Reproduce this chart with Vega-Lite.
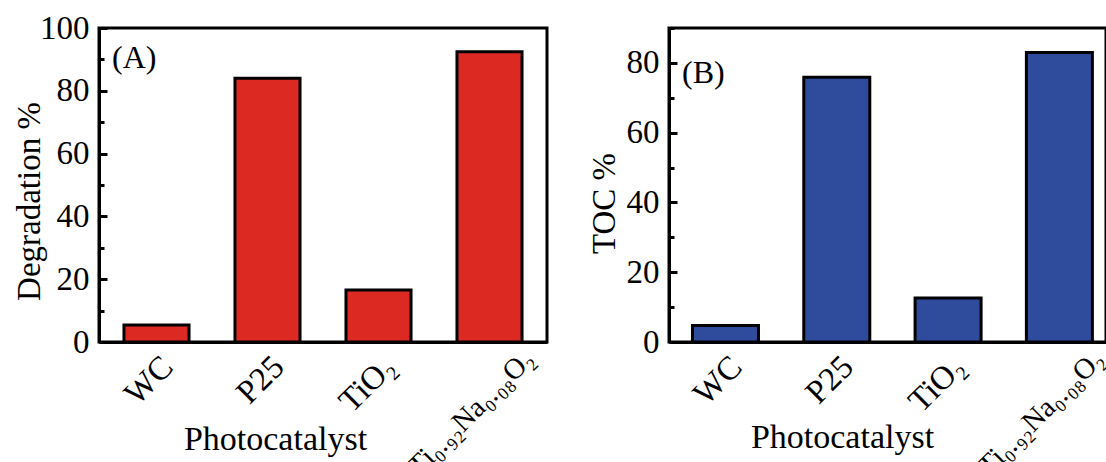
{
  "$schema": "https://vega.github.io/schema/vega-lite/v6.json",
  "padding": {"left": 11, "top": 10, "right": 0, "bottom": 0},
  "background": "white",
  "bounds": "flush",
  "spacing": 122,
  "config": {
    "font": "Liberation Serif",
    "view": {"stroke": "black", "strokeWidth": 3},
    "axis": {
      "domainColor": "black", "domainWidth": 3,
      "tickColor": "black", "tickWidth": 3,
      "labelColor": "black", "titleColor": "black",
      "labelFont": "Liberation Serif", "titleFont": "Liberation Serif",
      "labelFontSize": 33, "titleFontSize": 33, "titleFontWeight": "normal",
      "grid": false
    },
    "title": {"font": "Liberation Serif", "fontSize": 32, "fontWeight": "normal", "color": "black"}
  },
  "datasets": {
    "results": [
      {"catalyst": "WC", "degradation": 5.4, "toc": 4.7},
      {"catalyst": "P25", "degradation": 84, "toc": 75.9},
      {"catalyst": "TiO₂", "degradation": 16.6, "toc": 12.6},
      {"catalyst": "Ti₀.₉₂Na₀.₀₈O₂", "degradation": 92.4, "toc": 83}
    ]
  },
  "hconcat": [
    {
      "width": 448, "height": 314,
      "data": {"name": "results"},
      "title": {"text": "(A)", "anchor": "start", "frame": "group", "offset": -22, "dy": 41, "dx": 13},
      "mark": {"type": "bar", "fill": "#dc2a22", "stroke": "black", "strokeWidth": 3},
      "encoding": {
        "x": {
          "field": "catalyst", "type": "nominal", "sort": null,
          "scale": {"paddingInner": 0.414, "paddingOuter": 0.225},
          "axis": {
            "ticks": false, "labelAngle": -45, "labelAlign": "right", "labelBaseline": "top",
            "labelPadding": {"condition": {"test": "length(datum.label) > 5", "value": 2}, "value": 8},
            "labelOffset": {"condition": {"test": "length(datum.label) > 5", "value": 30}, "value": 0},
            "labelFontSize": {"condition": {"test": "length(datum.label) > 5", "value": 29}, "value": 33},
            "labelLimit": 400, "labelOverlap": false,
            "title": "Photocatalyst", "titleFontSize": 34, "titleX": 176, "titleY": 107, "titleBaseline": "alphabetic", "titleAlign": "center"
          }
        },
        "y": {
          "field": "degradation", "type": "quantitative",
          "scale": {"domain": [0, 100], "nice": false},
          "axis": {
            "values": [0, 10, 20, 30, 40, 50, 60, 70, 80, 90, 100],
            "labelExpr": "datum.value % 20 === 0 ? datum.label : ''",
            "tickSize": {"condition": {"test": "datum.value % 20 === 0", "value": -8}, "value": -5},
            "labelPadding": 18,
            "title": "Degradation %", "titleX": -60, "titleY": 173, "titleBaseline": "alphabetic", "titleAlign": "center"
          }
        }
      }
    },
    {
      "width": 437, "height": 314,
      "data": {"name": "results"},
      "title": {"text": "(B)", "anchor": "start", "frame": "group", "offset": -22, "dy": 41, "dx": 13},
      "mark": {"type": "bar", "fill": "#2f4b9c", "stroke": "black", "strokeWidth": 3},
      "encoding": {
        "x": {
          "field": "catalyst", "type": "nominal", "sort": null,
          "scale": {"paddingInner": 0.407, "paddingOuter": 0.1665, "align": 0.633},
          "axis": {
            "ticks": false, "labelAngle": -45, "labelAlign": "right", "labelBaseline": "top",
            "labelPadding": {"condition": {"test": "length(datum.label) > 5", "value": 2}, "value": 8},
            "labelOffset": {"condition": {"test": "length(datum.label) > 5", "value": 30}, "value": 0},
            "labelFontSize": {"condition": {"test": "length(datum.label) > 5", "value": 29}, "value": 33},
            "labelLimit": 400, "labelOverlap": false,
            "title": "Photocatalyst", "titleFontSize": 34, "titleX": 173, "titleY": 105, "titleBaseline": "alphabetic", "titleAlign": "center"
          }
        },
        "y": {
          "field": "toc", "type": "quantitative",
          "scale": {"domain": [0, 90], "nice": false},
          "axis": {
            "values": [0, 10, 20, 30, 40, 50, 60, 70, 80, 90],
            "labelExpr": "datum.value % 20 === 0 ? datum.label : ''",
            "tickSize": {"condition": {"test": "datum.value % 20 === 0", "value": -8}, "value": -5},
            "labelPadding": 18,
            "title": "TOC %", "titleX": -55, "titleY": 175, "titleBaseline": "alphabetic", "titleAlign": "center"
          }
        }
      }
    }
  ]
}
